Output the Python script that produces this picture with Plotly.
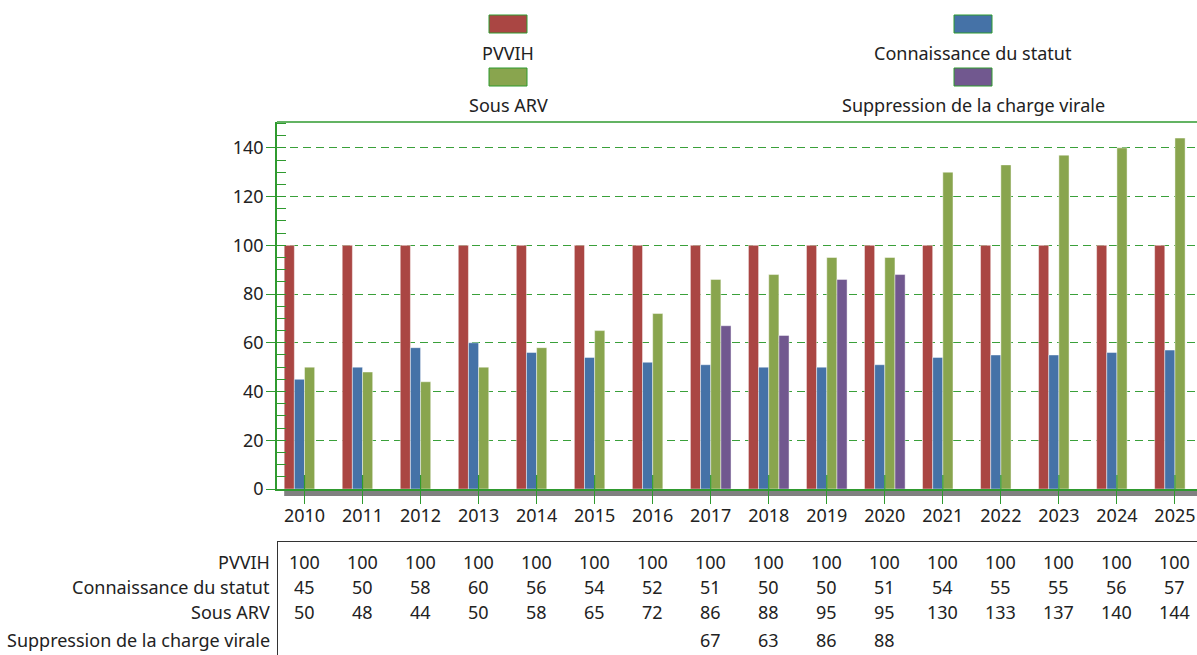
import plotly.graph_objects as go

# ---------------- data ----------------
years = ["2010", "2011", "2012", "2013", "2014", "2015", "2016", "2017",
         "2018", "2019", "2020", "2021", "2022", "2023", "2024", "2025"]
pvvih = [100, 100, 100, 100, 100, 100, 100, 100, 100, 100, 100, 100, 100, 100, 100, 100]
connaissance = [45, 50, 58, 60, 56, 54, 52, 51, 50, 50, 51, 54, 55, 55, 56, 57]
sous_arv = [50, 48, 44, 50, 58, 65, 72, 86, 88, 95, 95, 130, 133, 137, 140, 144]
suppression = [None, None, None, None, None, None, None, 67, 63, 86, 88,
               None, None, None, None, None]

series_names = ["PVVIH", "Connaissance du statut", "Sous ARV", "Suppression de la charge virale"]
series_values = [pvvih, connaissance, sous_arv, suppression]
colors = ["#AA4643", "#4572A7", "#89A54E", "#71588F"]

# ---------------- layout constants ----------------
W, H = 1197, 655
L, R, T, B = 277, 1197, 122, 489  # plot area in pixels
GREEN = "#2f9a2f"
TEXT = "#222222"
FONT = "Noto Sans"
FS = 18
BARGAP = 0.3


def px(x):
    return (x - L) / (R - L)


def py(y):
    return (B - y) / (B - T)


fig = go.Figure()
for name, vals, col in zip(series_names, series_values, colors):
    fig.add_trace(go.Bar(
        x=years, y=vals, name=name,
        marker=dict(color=col, line=dict(color="rgba(255,255,255,0.45)", width=1)),
        showlegend=False, hoverinfo="x+y+name",
    ))

shapes = []
annotations = []

# floor band under the bars
shapes.append(dict(type="rect", xref="x", yref="paper",
                   x0=-(1 - BARGAP) / 2, x1=len(years) - 0.5,
                   y0=-(496 - B) / (B - T), y1=0,
                   fillcolor="#808080", line=dict(width=0), layer="below"))
# upper part of category tick marks
for i in range(len(years)):
    shapes.append(dict(type="line", xref="x", yref="paper",
                       x0=i, x1=i, y0=0, y1=py(475),
                       line=dict(color=GREEN, width=1.2), layer="above"))
# top border of plot
shapes.append(dict(type="line", xref="paper", yref="paper", x0=0, x1=1, y0=1, y1=1,
                   line=dict(color=GREEN, width=1.5)))

# legend (swatch above label, 2 columns)
leg_pos = [(508, 24, 53), (973, 24, 53), (508, 77, 105), (973, 77, 105)]
for (cx, sy, ty), name, col in zip(leg_pos, series_names, colors):
    shapes.append(dict(type="rect", xref="paper", yref="paper",
                       x0=px(cx - 19), x1=px(cx + 19), y0=py(sy - 9), y1=py(sy + 9),
                       fillcolor=col, line=dict(color=GREEN, width=1)))
    annotations.append(dict(xref="paper", yref="paper", x=px(cx), y=py(ty),
                            text=name, showarrow=False, xanchor="center", yanchor="middle",
                            font=dict(family=FONT, size=FS, color=TEXT)))

# data table
shapes.append(dict(type="line", xref="paper", yref="paper",
                   x0=px(277), x1=1, y0=py(541.5), y1=py(541.5),
                   line=dict(color="#333333", width=1)))
shapes.append(dict(type="line", xref="paper", yref="paper",
                   x0=px(277.5), x1=px(277.5), y0=py(541.5), y1=py(660),
                   line=dict(color="#333333", width=1)))
row_y = [562, 587, 612, 640]
for ry, name, vals in zip(row_y, series_names, series_values):
    annotations.append(dict(xref="paper", yref="paper", x=px(272), y=py(ry),
                            text=name, showarrow=False, xanchor="right", yanchor="middle",
                            font=dict(family=FONT, size=FS, color=TEXT)))
    for i, v in enumerate(vals):
        if v is None:
            continue
        annotations.append(dict(xref="x", yref="paper", x=i, y=py(ry),
                                text=str(v), showarrow=False, xanchor="center",
                                yanchor="middle",
                                font=dict(family=FONT, size=FS, color=TEXT)))

fig.update_layout(
    width=W, height=H,
    margin=dict(l=L, r=W - R, t=T, b=H - B, pad=0),
    paper_bgcolor="white", plot_bgcolor="white",
    barmode="group", bargap=BARGAP, bargroupgap=0,
    font=dict(family=FONT, size=FS, color=TEXT),
    shapes=shapes, annotations=annotations,
    xaxis=dict(type="category", range=[-0.474, 15.38], showline=True,
               linecolor=GREEN, linewidth=1.5, ticks="outside", ticklen=13,
               tickcolor=GREEN, tickwidth=1.2, showgrid=False, zeroline=False,
               ticklabelstandoff=-3,
               tickfont=dict(family=FONT, size=FS, color=TEXT)),
    yaxis=dict(range=[0, 150.6], dtick=20, tick0=0, showline=True, linecolor=GREEN,
               linewidth=1.5, ticks="outside", ticklen=9, tickcolor=GREEN,
               showgrid=True, gridcolor="#3aa03a", griddash="8px,5px", gridwidth=1,
               zeroline=False, ticklabelstandoff=-1,
               minor=dict(ticks="inside", ticklen=9, dtick=5, tick0=0,
                          tickcolor=GREEN, showgrid=False),
               tickfont=dict(family=FONT, size=FS, color=TEXT)),
)

fig.write_html("out.html", config={"displayModeBar": False},
               post_script="document.body.style.margin='0';")
